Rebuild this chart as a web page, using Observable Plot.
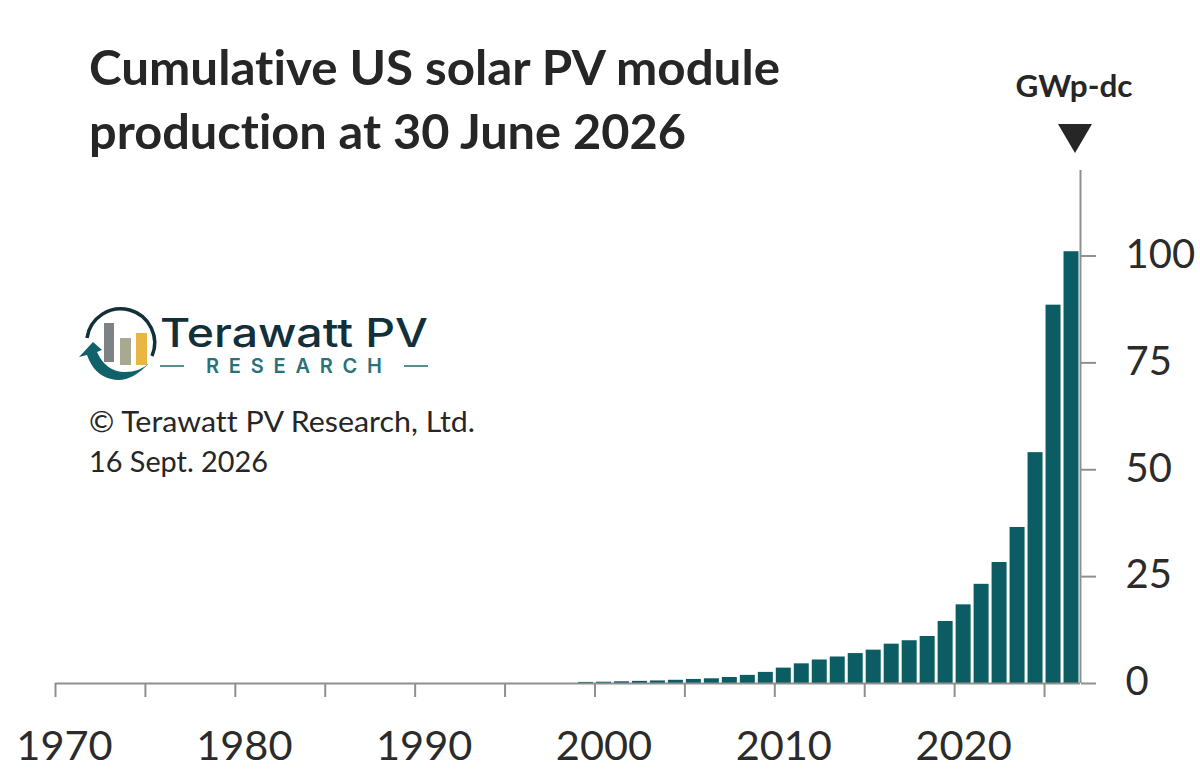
<!DOCTYPE html>
<html><head><meta charset="utf-8">
<script src="https://cdn.jsdelivr.net/npm/d3@7"></script>
<script src="https://cdn.jsdelivr.net/npm/@observablehq/plot@0.6"></script>
<style>
html,body{margin:0;padding:0;background:#fff;width:1200px;height:775px;overflow:hidden}
#wrap{position:relative;width:1200px;height:775px}
#chart,#deco{position:absolute;left:0;top:0}
#deco text{font-family:Lato,sans-serif;font-variant-ligatures:none}
</style></head><body>
<div id="wrap"><div id="chart"></div>
<svg id="deco" width="1200" height="775" viewBox="0 0 1200 775">
<text x="89" y="85" font-size="47.5" font-weight="700" fill="#262626" textLength="691" lengthAdjust="spacingAndGlyphs">Cumulative US solar PV module</text>
<text x="89" y="149" font-size="47.5" font-weight="700" fill="#262626" textLength="597" lengthAdjust="spacingAndGlyphs">production at 30 June 2026</text>
<text x="1074" y="97" font-size="30" font-weight="700" fill="#262626" text-anchor="middle" textLength="117" lengthAdjust="spacingAndGlyphs">GWp-dc</text>
<polygon points="1058,124 1092,124 1075,153" fill="#262626"/>
<path d="M87 338 A34 34 0 1 1 152 356" fill="none" stroke="#12303a" stroke-width="3.5"/>
<path d="M149 363 Q130 384 111 379 Q94 375 87 355 L79 357 L93 342 L102 350 L97 352 Q106 372 125 372 Q140 372 149 363 Z" fill="#10626a"/>
<rect x="104" y="323" width="10" height="39" fill="#7d8284"/>
<rect x="120" y="338" width="11" height="27" fill="#a9a991"/>
<rect x="136" y="333" width="11" height="32" fill="#e9b543"/>
<text x="160" y="347" font-size="39" font-weight="500" fill="#12303a" textLength="268" lengthAdjust="spacingAndGlyphs" style="font-family:Inter">Terawatt PV</text>
<text x="206" y="373" font-size="20" font-weight="600" fill="#2b7178" textLength="176" style="font-family:Inter">RESEARCH</text>
<line x1="160" x2="184" y1="366" y2="366" stroke="#2b7178" stroke-width="1.6"/>
<line x1="404" x2="428" y1="366" y2="366" stroke="#2b7178" stroke-width="1.6"/>
<text x="89" y="432" font-size="28" fill="#262626" textLength="386" lengthAdjust="spacingAndGlyphs">© Terawatt PV Research, Ltd.</text>
<text x="89" y="472" font-size="28" fill="#262626" textLength="179" lengthAdjust="spacingAndGlyphs">16 Sept. 2026</text>
</svg></div>
<script>
const years = d3.range(1999, 2027);
const production = [0.25,0.3,0.4,0.5,0.6,0.75,0.95,1.1,1.4,1.9,2.6,3.6,4.6,5.5,6.2,7,7.8,9.2,10,11,14.5,18.4,23.2,28.3,36.5,54,88.5,101];
const xTicks = d3.range(1970, 2026, 5);
const xLabels = [1970,1980,1990,2000,2010,2020];
const yTicks = [0,25,50,75,100];
const data = years.map((y,i)=>({year:y,value:production[i]}));
const gray = "#8f8f8f", ink = "#2b2b2b", font = "Lato, sans-serif";
const plot = Plot.plot({
  width:1200, height:775,
  marginLeft:55, marginRight:120, marginTop:170, marginBottom:92,
  style:{background:"transparent",fontFamily:font,overflow:"visible"},
  x:{domain:[1970,2027]},
  y:{domain:[0,120]},
  marks:[
    Plot.rectY(data,{x1:"year",x2:d=>d.year+1,y1:0,y2:"value",fill:"#0b5c63",insetLeft:1.5,insetRight:1.5}),
    Plot.ruleY([0],{stroke:gray,strokeWidth:2}),
    Plot.ruleX([2027],{y1:0,y2:120,stroke:gray,strokeWidth:2}),
    Plot.axisX({ticks:xTicks,tickSize:14,stroke:gray,strokeWidth:2,text:null,label:null}),
    Plot.textX(xLabels,{x:d=>d+0.5,frameAnchor:"bottom",dy:76,text:d=>String(d),fontSize:41.5,fill:ink,fontFamily:font}),
    Plot.axisY({anchor:"right",ticks:yTicks,tickSize:15,stroke:gray,strokeWidth:2,text:null,label:null}),
    Plot.text(yTicks,{y:d=>d,frameAnchor:"right",textAnchor:"start",dx:45,dy:-1,text:d=>String(d),fontSize:40,fill:ink,fontFamily:font})
  ]
});
document.getElementById("chart").appendChild(plot);
</script></body></html>
